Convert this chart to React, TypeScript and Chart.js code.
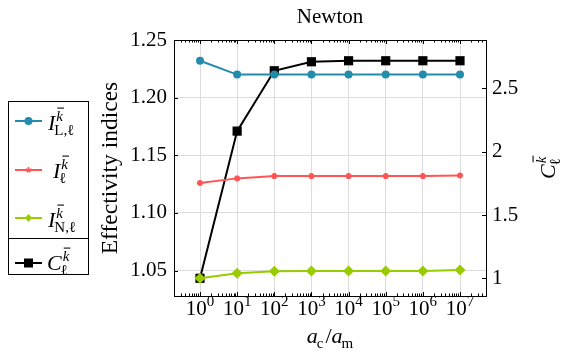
import { useEffect, useRef } from 'react';
import { Chart, registerables } from 'chart.js';

Chart.register(...registerables);

const FONT = '"Liberation Serif", "DejaVu Serif", serif';

// Stiffness ratio a_c / a_m
const ratios = [1, 1e1, 1e2, 1e3, 1e4, 1e5, 1e6, 1e7];
const decadeExponents = [0, 1, 2, 3, 4, 5, 6, 7];
// Effectivity indices (left axis)
const effLocal = [1.232, 1.22, 1.22, 1.22, 1.22, 1.22, 1.22, 1.22];
const effTotal = [1.126, 1.13, 1.132, 1.132, 1.132, 1.132, 1.132, 1.1325];
const effNonlinear = [1.0434, 1.0477, 1.0495, 1.0497, 1.0497, 1.0497, 1.0497, 1.0505];
// Constant C (right axis)
const constC = [1.0, 2.163, 2.64, 2.711, 2.719, 2.719, 2.719, 2.719];

const leftTicks = [1.05, 1.1, 1.15, 1.2, 1.25];
const rightTicks = [1, 1.5, 2, 2.5];

const BLUE = '#238cab';
const RED = '#ff5555';
const GREEN = '#99cc00';
const BLACK = '#000000';

type Run = { t: string; it?: boolean; bar?: boolean };
type Piece = { base: Run; sup?: Run[]; sub?: Run[] };

const fontOf = (r: Run, size: number) => `${r.it ? 'italic ' : ''}${size}px ${FONT}`;

function runsWidth(ctx: CanvasRenderingContext2D, runs: Run[], size: number) {
  let w = 0;
  for (const r of runs) {
    ctx.font = fontOf(r, size);
    w += ctx.measureText(r.t).width;
  }
  return w;
}

function drawRuns(ctx: CanvasRenderingContext2D, runs: Run[], x: number, y: number, size: number) {
  for (const r of runs) {
    ctx.font = fontOf(r, size);
    ctx.fillText(r.t, x, y);
    const w = ctx.measureText(r.t).width;
    if (r.bar) ctx.fillRect(x + 1, y - size * 0.88, w, Math.max(1, size * 0.07));
    x += w;
  }
}

function mathWidth(ctx: CanvasRenderingContext2D, pieces: Piece[], size: number) {
  const ss = Math.round(size * 0.7);
  let w = 0;
  for (const p of pieces) {
    w += runsWidth(ctx, [p.base], size);
    w += Math.max(p.sup ? runsWidth(ctx, p.sup, ss) : 0, p.sub ? runsWidth(ctx, p.sub, ss) : 0);
  }
  return w;
}

function drawMath(ctx: CanvasRenderingContext2D, pieces: Piece[], x: number, y: number, size: number) {
  const ss = Math.round(size * 0.7);
  ctx.textAlign = 'left';
  ctx.textBaseline = 'alphabetic';
  for (const p of pieces) {
    drawRuns(ctx, [p.base], x, y, size);
    x += runsWidth(ctx, [p.base], size);
    if (p.base.it && (p.sup || p.sub)) x += 1;
    let sw = 0;
    if (p.sup) {
      drawRuns(ctx, p.sup, x, y - size * 0.42, ss);
      sw = runsWidth(ctx, p.sup, ss);
    }
    if (p.sub) {
      drawRuns(ctx, p.sub, x - (p.base.it ? 2 : 0), y + size * 0.24, ss);
      sw = Math.max(sw, runsWidth(ctx, p.sub, ss));
    }
    x += sw;
  }
}

const kBar: Run = { t: 'k', it: true, bar: true };
const ell: Run = { t: 'ℓ' };

const legendItems = [
  { color: BLUE, marker: 'circle', x: 48, base: 130, line: 121, math: [{ base: { t: 'I', it: true }, sup: [kBar], sub: [{ t: 'L,' }, ell] }] },
  { color: RED, marker: 'star', x: 53, base: 178, line: 170, math: [{ base: { t: 'I', it: true }, sup: [kBar], sub: [ell] }] },
  { color: GREEN, marker: 'diamond', x: 48, base: 227, line: 218, math: [{ base: { t: 'I', it: true }, sup: [kBar], sub: [{ t: 'N,' }, ell] }] },
  { color: BLACK, marker: 'square', x: 47, base: 270, line: 263, math: [{ base: { t: 'C', it: true }, sup: [kBar], sub: [ell] }] },
] as { color: string; marker: string; x: number; base: number; line: number; math: Piece[] }[];

function drawMarker(ctx: CanvasRenderingContext2D, kind: string, x: number, y: number, color: string) {
  ctx.fillStyle = color;
  ctx.strokeStyle = color;
  ctx.lineWidth = 1.5;
  ctx.beginPath();
  if (kind === 'circle') {
    ctx.arc(x, y, 4, 0, Math.PI * 2);
    ctx.fill();
  } else if (kind === 'diamond') {
    ctx.moveTo(x, y - 4);
    ctx.lineTo(x + 3.5, y);
    ctx.lineTo(x, y + 4);
    ctx.lineTo(x - 3.5, y);
    ctx.closePath();
    ctx.fill();
  } else if (kind === 'square') {
    ctx.rect(x - 4.5, y - 4.5, 9, 9);
    ctx.fill();
  } else {
    for (let i = 0; i < 5; i++) {
      const a = -Math.PI / 2 + (i * 2 * Math.PI) / 5;
      ctx.moveTo(x, y);
      ctx.lineTo(x + 3 * Math.cos(a), y + 3 * Math.sin(a));
    }
    ctx.stroke();
  }
}

const decorations = {
  id: 'decorations',
  afterDatasetsDraw(chart: any) {
    const { ctx, chartArea: a, scales } = chart;
    const xs = scales.x;
    const ys = scales.y;
    const yr = scales.y1;
    ctx.save();
    ctx.strokeStyle = '#000';
    ctx.fillStyle = '#000';
    ctx.lineWidth = 1;

    // tick marks
    ctx.beginPath();
    for (let e = -1; e <= 7; e++) {
      for (let m = 1; m <= 9; m++) {
        const v = m * Math.pow(10, e);
        if (v < xs.min || v > xs.max) continue;
        const px = Math.round(xs.getPixelForValue(v)) + 0.5;
        const len = m === 1 ? 4 : 2.5;
        ctx.moveTo(px, a.bottom);
        ctx.lineTo(px, a.bottom - len);
        ctx.moveTo(px, a.top);
        ctx.lineTo(px, a.top + len);
      }
    }
    for (const v of leftTicks) {
      const py = Math.round(ys.getPixelForValue(v)) + 0.5;
      ctx.moveTo(a.left, py);
      ctx.lineTo(a.left + 4, py);
    }
    for (const v of rightTicks) {
      const py = Math.round(yr.getPixelForValue(v)) + 0.5;
      ctx.moveTo(a.right, py);
      ctx.lineTo(a.right - 4, py);
    }
    ctx.stroke();

    // frame
    ctx.strokeRect(Math.round(a.left) + 0.5, Math.round(a.top) + 0.5, Math.round(a.right - a.left), Math.round(a.bottom - a.top));

    // x tick labels 10^n
    for (const n of decadeExponents) {
      const px = xs.getPixelForValue(Math.pow(10, n));
      const pieces: Piece[] = [{ base: { t: '10' }, sup: [{ t: String(n) }] }];
      const w = mathWidth(ctx, pieces, 21);
      drawMath(ctx, pieces, px - w / 2, 315, 21);
    }

    // x axis title
    const xTitle: Piece[] = [
      { base: { t: 'a', it: true }, sub: [{ t: 'c' }] },
      { base: { t: '/' } },
      { base: { t: 'a', it: true }, sub: [{ t: 'm' }] },
    ];
    const xw = mathWidth(ctx, xTitle, 22);
    drawMath(ctx, xTitle, (a.left + a.right) / 2 - xw / 2, 343, 22);

    // chart title
    ctx.font = `21px ${FONT}`;
    ctx.textAlign = 'center';
    ctx.textBaseline = 'alphabetic';
    ctx.fillText('Newton', (a.left + a.right) / 2, 23);

    // left axis title
    ctx.save();
    ctx.translate(117, (a.top + a.bottom) / 2);
    ctx.rotate(-Math.PI / 2);
    ctx.font = `23.5px ${FONT}`;
    ctx.textAlign = 'center';
    ctx.fillText('Effectivity indices', 0, 0);
    ctx.restore();

    // right axis title
    ctx.save();
    ctx.translate(555, (a.top + a.bottom) / 2);
    ctx.rotate(-Math.PI / 2);
    const cTitle: Piece[] = [{ base: { t: 'C', it: true }, sup: [kBar], sub: [ell] }];
    const cw = mathWidth(ctx, cTitle, 22);
    drawMath(ctx, cTitle, -cw / 2, 0, 22);
    ctx.restore();

    // legend
    ctx.lineWidth = 1;
    ctx.strokeStyle = '#000';
    ctx.strokeRect(8.5, 101.5, 80, 173);
    ctx.beginPath();
    ctx.moveTo(8, 238.5);
    ctx.lineTo(89, 238.5);
    ctx.stroke();
    for (const item of legendItems) {
      ctx.strokeStyle = item.color;
      ctx.lineWidth = 2;
      ctx.beginPath();
      ctx.moveTo(15, item.line);
      ctx.lineTo(42, item.line);
      ctx.stroke();
      drawMarker(ctx, item.marker, 28.5, item.line, item.color);
      ctx.fillStyle = '#000';
      drawMath(ctx, item.math, item.x, item.base, 22);
    }
    ctx.restore();
  },
};

const toPoints = (vals: number[]) => vals.map((v, i) => ({ x: ratios[i], y: v }));

export default function App() {
  const canvasRef = useRef<HTMLCanvasElement | null>(null);

  useEffect(() => {
    const canvas = canvasRef.current;
    if (!canvas) return;
    const chart = new Chart(canvas, {
      type: 'line',
      data: {
        datasets: [
          {
            label: 'I_N',
            data: toPoints(effNonlinear),
            yAxisID: 'y',
            borderColor: GREEN,
            backgroundColor: GREEN,
            borderWidth: 2,
            pointStyle: 'rectRot',
            pointRadius: 5.5,
            pointBorderWidth: 0,
            order: 1,
          },
          {
            label: 'I',
            data: toPoints(effTotal),
            yAxisID: 'y',
            borderColor: RED,
            backgroundColor: RED,
            borderWidth: 2,
            pointStyle: 'star',
            pointRadius: 3,
            pointBorderWidth: 2,
            order: 1,
          },
          {
            label: 'I_L',
            data: toPoints(effLocal),
            yAxisID: 'y',
            borderColor: BLUE,
            backgroundColor: BLUE,
            borderWidth: 2,
            pointStyle: 'circle',
            pointRadius: 4,
            pointBorderWidth: 0,
            order: 1,
          },
          {
            label: 'C',
            data: toPoints(constC),
            yAxisID: 'y1',
            borderColor: BLACK,
            backgroundColor: BLACK,
            borderWidth: 2,
            pointStyle: 'rect',
            pointRadius: 6.5,
            pointBorderWidth: 0,
            order: 2,
          },
        ],
      },
      options: {
        responsive: false,
        animation: false,
        devicePixelRatio: 1,
        layout: { padding: { top: 40, left: 0, right: 0, bottom: 0 } },
        plugins: { legend: { display: false }, tooltip: { enabled: false } },
        elements: { line: { tension: 0 } },
        scales: {
          x: {
            type: 'logarithmic',
            min: Math.pow(10, -0.7),
            max: Math.pow(10, 7.7),
            afterBuildTicks: (s: any) => {
              s.ticks = ratios.map((v) => ({ value: v }));
            },
            ticks: { display: false },
            grid: { color: '#dcdcdc', drawTicks: false, lineWidth: 1 },
            border: { display: false },
            afterFit: (s: any) => {
              s.height = 62;
            },
          },
          y: {
            type: 'linear',
            position: 'left',
            min: 1.028,
            max: 1.25,
            afterBuildTicks: (s: any) => {
              s.ticks = leftTicks.map((v) => ({ value: v }));
            },
            ticks: {
              callback: (v: any) => Number(v).toFixed(2),
              font: { family: FONT, size: 21 },
              color: '#000',
              padding: 7,
            },
            grid: { color: '#dcdcdc', drawTicks: false },
            border: { display: false },
            afterFit: (s: any) => {
              s.width = 174;
            },
          },
          y1: {
            type: 'linear',
            position: 'right',
            min: 0.86,
            max: 2.883,
            afterBuildTicks: (s: any) => {
              s.ticks = rightTicks.map((v) => ({ value: v }));
            },
            ticks: {
              callback: (v: any) => String(v),
              font: { family: FONT, size: 21 },
              color: '#000',
              padding: 6,
            },
            grid: { drawOnChartArea: false, drawTicks: false },
            border: { display: false },
            afterFit: (s: any) => {
              s.width = 75;
            },
          },
        },
      },
      plugins: [decorations],
    });
    return () => chart.destroy();
  }, []);

  return (
    <div style={{ position: 'fixed', left: 0, top: 0, width: 561, height: 358, background: '#fff' }}>
      <canvas ref={canvasRef} width={561} height={358} />
    </div>
  );
}
